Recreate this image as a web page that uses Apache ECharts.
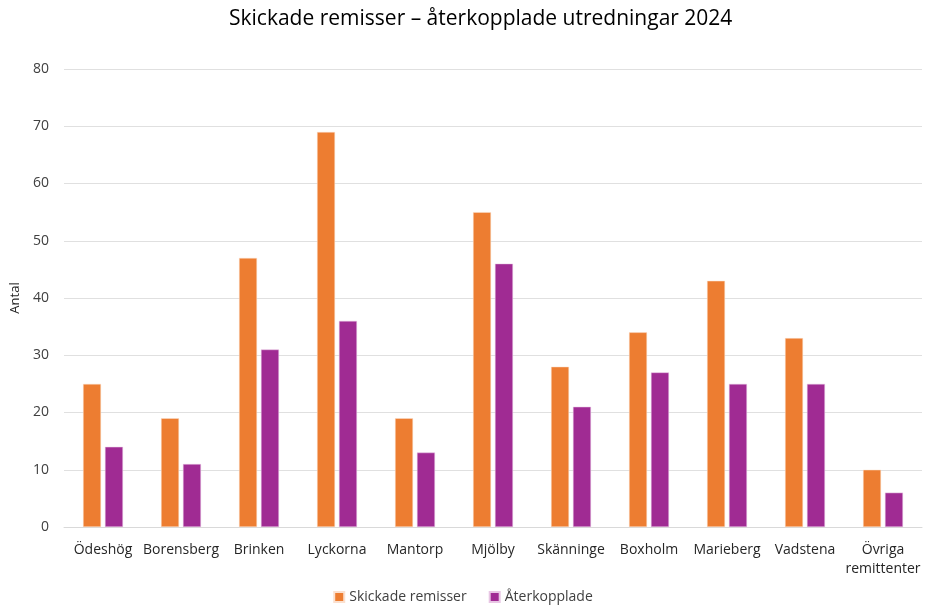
<!DOCTYPE html>
<html>
<head>
<meta charset="utf-8">
<script src="https://cdn.jsdelivr.net/npm/echarts@6/dist/echarts.min.js"></script>
<style>
  html, body { margin: 0; padding: 0; background: #fff; }
  #chart { width: 926px; height: 609px; }
</style>
</head>
<body>
<div id="chart"></div>
<script>
const categories = ['Ödeshög', 'Borensberg', 'Brinken', 'Lyckorna', 'Mantorp', 'Mjölby',
    'Skänninge', 'Boxholm', 'Marieberg', 'Vadstena', 'Övriga\nremittenter'];
const skickade = [25, 19, 47, 69, 19, 55, 28, 34, 43, 33, 10];
const aterkopplade = [14, 11, 31, 36, 13, 46, 21, 27, 25, 25, 6];

const chart = echarts.init(document.getElementById('chart'));
const font = 'Open Sans, Noto Sans, sans-serif';

const option = {
    animation: false,
    textStyle: { fontFamily: font },
    title: {
        text: 'Skickade remisser – återkopplade utredningar 2024',
        left: 224,
        top: 4,
        textStyle: { fontSize: 21, fontWeight: 'normal', color: '#000', fontFamily: font }
    },
    legend: {
        bottom: 0,
        left: 'center',
        itemWidth: 10,
        itemHeight: 10,
        itemGap: 22,
        icon: 'rect',
        textStyle: { fontSize: 14, color: '#404040', fontFamily: font }
    },
    grid: { left: 64, right: 4, top: 69, bottom: 82 },
    xAxis: {
        type: 'category',
        data: categories,
        axisTick: { show: false },
        axisLine: { lineStyle: { color: '#d9d9d9' } },
        axisLabel: { fontSize: 14, color: '#262626', margin: 14, lineHeight: 19, interval: 0 }
    },
    yAxis: {
        type: 'value',
        name: 'Antal',
        nameLocation: 'middle',
        nameGap: 37,
        nameTextStyle: { fontSize: 13, color: '#262626' },
        min: 0,
        max: 80,
        interval: 10,
        axisLabel: { fontSize: 14, color: '#404040', margin: 15 },
        splitLine: { lineStyle: { color: '#e0e0e0' } }
    },
    series: [
        {
            name: 'Skickade remisser',
            type: 'bar',
            data: skickade,
            barWidth: 18,
            barGap: '22%',
            itemStyle: { color: '#ED7D31', borderColor: '#fbe0cf', borderWidth: 0.5 }
        },
        {
            name: 'Återkopplade',
            type: 'bar',
            data: aterkopplade,
            barWidth: 18,
            itemStyle: { color: '#A02B93', borderColor: '#e8c6e4', borderWidth: 0.5 }
        }
    ]
};

chart.setOption(option);
</script>
</body>
</html>
